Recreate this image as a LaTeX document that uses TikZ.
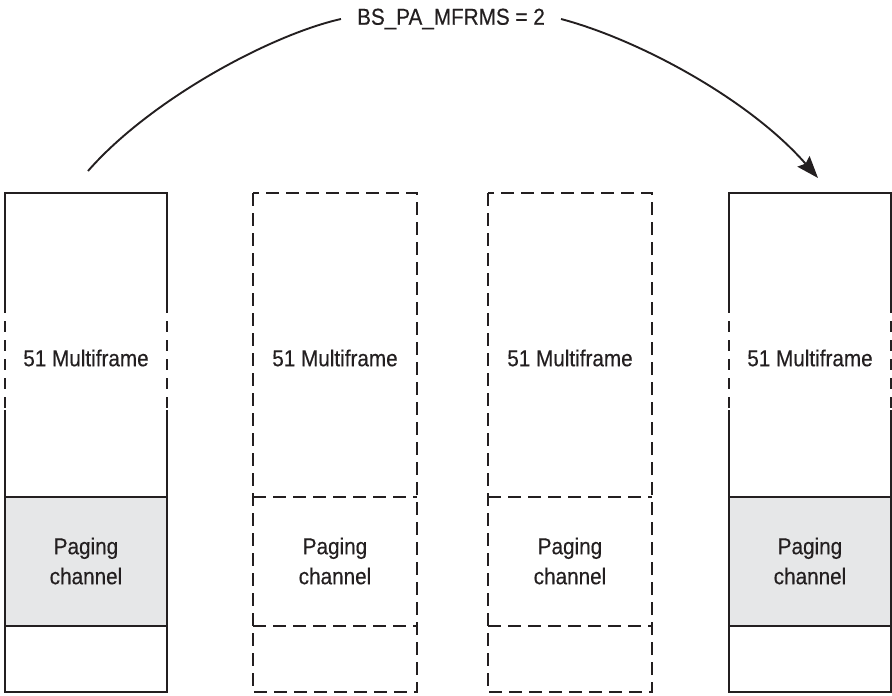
\documentclass[tikz,border=0pt]{standalone}
\usepackage{fontspec}
\setmainfont{Liberation Sans}[FakeStretch=0.9, FakeBold=0.4]
\usetikzlibrary{arrows.meta}

\definecolor{ink}{HTML}{231F20}
\definecolor{pagegray}{HTML}{E6E7E8}

\begin{document}
\begin{tikzpicture}[
    x=1pt, y=-1pt,
    every node/.style={font=\fontsize{23}{30}\selectfont, text=ink, align=center},
    frameline/.style={draw=ink, line width=2.3pt},
    dashframe/.style={draw=ink, line width=2.3pt, dash pattern=on 13pt off 7pt},
    gapline/.style={draw=ink, line width=2.3pt, dash pattern=on 11pt off 8pt}
]
\useasboundingbox (0,0) rectangle (892,696);

% Frame 1
\fill[pagegray] (5,497) rectangle (167,626);
\draw[frameline] (5,302) -- (5,193) -- (167,193) -- (167,302);
\draw[gapline] (5,302) -- (5,410);
\draw[gapline] (167,302) -- (167,410);
\draw[frameline] (5,410) -- (5,692) -- (167,692) -- (167,410);
\draw[frameline] (5,497) -- (167,497);
\draw[frameline] (5,626) -- (167,626);
\node (mf1) at (86,358) {51 Multiframe};
\node (pc1) at (86,561) {Paging\\channel};

% Frame 2
\draw[dashframe] (253,193) rectangle (417,692);
\draw[dashframe] (253,497) -- (417,497);
\draw[dashframe] (253,626) -- (417,626);
\node (mf2) at (335,358) {51 Multiframe};
\node (pc2) at (335,561) {Paging\\channel};

% Frame 3
\draw[dashframe] (488,193) rectangle (652,692);
\draw[dashframe] (488,497) -- (652,497);
\draw[dashframe] (488,626) -- (652,626);
\node (mf3) at (570,358) {51 Multiframe};
\node (pc3) at (570,561) {Paging\\channel};

% Frame 4
\fill[pagegray] (729,497) rectangle (891,626);
\draw[frameline] (729,302) -- (729,193) -- (891,193) -- (891,302);
\draw[gapline] (729,302) -- (729,410);
\draw[gapline] (891,302) -- (891,410);
\draw[frameline] (729,410) -- (729,692) -- (891,692) -- (891,410);
\draw[frameline] (729,497) -- (891,497);
\draw[frameline] (729,626) -- (891,626);
\node (mf4) at (810,358) {51 Multiframe};
\node (pc4) at (810,561) {Paging\\channel};

% Repeat arc
\node[inner xsep=16pt] (bs) at (451,19) {BS\_PA\_MFRMS = 2};
\coordinate (from) at (88,171);
\coordinate (to) at (818,178);
\draw[ink, line width=1.9pt] (from) .. controls (150,100) and (270,35) .. (bs.west);
\draw[ink, line width=1.9pt, -{Stealth[length=22pt,width=16pt,inset=3pt]}]
    (bs.east) .. controls (640,40) and (750,100) .. (to);

\end{tikzpicture}
\end{document}
